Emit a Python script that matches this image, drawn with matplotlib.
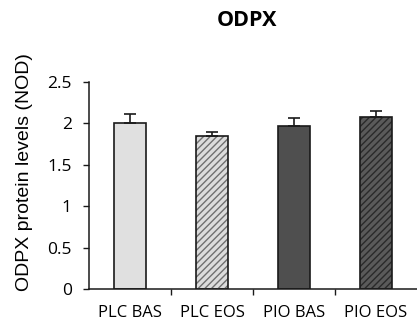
import numpy as np
import matplotlib
matplotlib.use("Agg")
import matplotlib.pyplot as plt

# data
groups = ["PLC BAS", "PLC EOS", "PIO BAS", "PIO EOS"]
means = [2.01, 1.85, 1.97, 2.075]
errs = [0.11, 0.05, 0.09, 0.075]

face = ["#e0e0e0", "#dcdcdc", "#4f4f4f", "#5a5a5a"]
hatch_col = ["#303030", "#707070", "#303030", "#2a2a2a"]
hatches = [None, "/////", None, "/////"]

plt.rcParams["hatch.linewidth"] = 1.0
fig = plt.figure(figsize=(4.17, 3.23), dpi=100)
ax = fig.add_axes([0.2134, 0.105, 0.7866, 0.641])

x = np.arange(len(groups))
for i in range(len(groups)):
    ax.bar(x[i], means[i], width=0.4, color=face[i], linewidth=0, zorder=2)
    if hatches[i]:
        ax.bar(x[i], means[i], width=0.4, color="none", edgecolor=hatch_col[i],
               linewidth=0, hatch=hatches[i], zorder=3)
    ax.bar(x[i], means[i], width=0.4, color="none", edgecolor="#1a1a1a",
           linewidth=1.2, zorder=4)
    ax.errorbar(x[i], means[i], yerr=[[0], [errs[i]]], fmt="none",
                ecolor="#1a1a1a", elinewidth=1.2, capsize=4, capthick=1.2, zorder=5)

tick_font = "Open Sans"
ax.set_xlim(-0.5, len(groups) - 0.5)
ax.set_ylim(0, 2.5)
ax.set_yticks([0, 0.5, 1, 1.5, 2, 2.5])
ax.set_yticklabels(["0", "0.5", "1", "1.5", "2", "2.5"], fontfamily=tick_font, fontsize=12.5)
ax.set_xticks(x)
ax.set_xticklabels(groups, fontfamily=tick_font, fontsize=12)
ax.tick_params(axis="x", length=0, pad=11.5)
ax.set_xticks(np.arange(0.5, len(groups) - 1, 1), minor=True)
ax.tick_params(axis="x", which="minor", length=4, width=1, direction="out", color="#1a1a1a")
ax.tick_params(axis="y", length=4.5, width=1, direction="out", color="#1a1a1a", pad=8)

for s in ["top", "right"]:
    ax.spines[s].set_visible(False)
for s in ["left", "bottom"]:
    ax.spines[s].set_linewidth(1.1)
    ax.spines[s].set_color("#1a1a1a")

ax.set_ylabel("ODPX protein levels (NOD)", fontfamily="Liberation Sans", fontsize=14)
ax.yaxis.set_label_coords(-0.171, 0.565)
fig.text(0.593, 0.935, "ODPX", ha="center", va="center", fontfamily=tick_font,
         fontweight="bold", fontsize=15.5)

fig.savefig("out.png", dpi=100)
